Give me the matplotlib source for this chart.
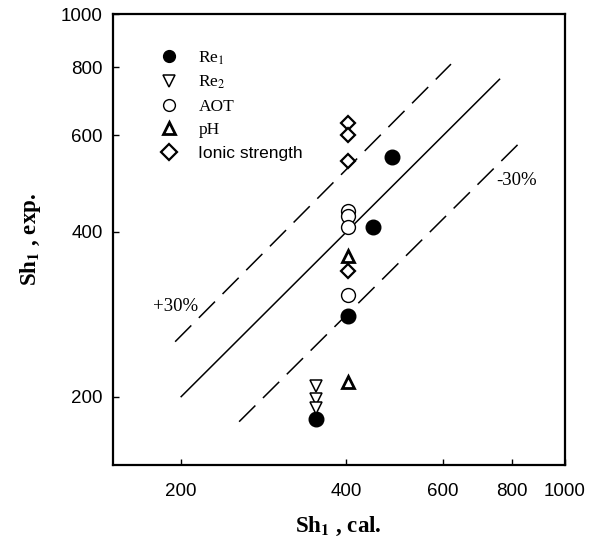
import matplotlib
matplotlib.use("Agg")
import matplotlib.pyplot as plt
from matplotlib.ticker import FixedLocator, FixedFormatter, NullLocator

plt.rcParams['mathtext.fontset'] = 'stix'

re1_cal = [485, 447, 402, 352]
re1_exp = [548, 409, 281, 182]
re2_cal = [352, 352, 352]
re2_exp = [209, 198, 191]
aot_cal = [402, 402, 402, 402]
aot_exp = [437, 428, 408, 307]
ph_cal = [402, 402]
ph_exp = [362, 213]
ionic_cal = [403, 403, 403, 403]
ionic_exp = [632, 602, 538, 339]

# parity line and +/-30% bands
parity_x = [200, 760]
parity_y = [200, 760]
plus30_x = [195, 620]
plus30_y = [252, 810]
minus30_x = [255, 840]
minus30_y = [180, 591]

ticks = [200, 400, 600, 800, 1000]
tick_labels = ["200", "400", "600", "800", "1000"]

fig = plt.figure(figsize=(6.02, 5.50), dpi=100)
ax = fig.add_axes([0.187, 0.1545, 0.7515, 0.82])

ax.plot(parity_x, parity_y, color='k', lw=1.1)
ax.plot(plus30_x, plus30_y, color='k', lw=1.1, dashes=(15, 7))
ax.plot(minus30_x, minus30_y, color='k', lw=1.1, dashes=(15, 7))

ax.plot(re1_cal, re1_exp, 'o', ms=10.5, mfc='k', mec='k', label="Re$_1$")
ax.plot(re2_cal, re2_exp, 'v', ms=8.5, mfc='white', mec='k', mew=1.1, label="Re$_2$")
ax.plot(aot_cal, aot_exp, 'o', ms=10, mfc='white', mec='k', mew=1.0, label="AOT")
ax.plot(ph_cal, ph_exp, '^', ms=8.5, mfc='white', mec='k', mew=2.0, label="pH")
ax.plot(ionic_cal, ionic_exp, 'D', ms=7.5, mfc='white', mec='k', mew=1.6, label="Ionic strength")

ax.set_xscale('log')
ax.set_yscale('log')
ax.set_xlim(150, 1000)
ax.set_ylim(150, 1000)

ax.xaxis.set_major_locator(FixedLocator(ticks))
ax.xaxis.set_major_formatter(FixedFormatter(tick_labels))
ax.yaxis.set_major_locator(FixedLocator(ticks))
ax.yaxis.set_major_formatter(FixedFormatter(tick_labels))
ax.xaxis.set_minor_locator(NullLocator())
ax.yaxis.set_minor_locator(NullLocator())
ax.tick_params(direction='in', length=4, width=1)
ax.tick_params(axis='x', pad=13)
ax.tick_params(axis='y', pad=7)
for lab in ax.get_xticklabels() + ax.get_yticklabels():
    lab.set_fontfamily('Liberation Sans')
    lab.set_fontsize(13.5)
for sp in ax.spines.values():
    sp.set_linewidth(1.6)

ax.set_xlabel(r"Sh$_\mathbf{1}$ , cal.", fontfamily='Liberation Serif',
              fontweight='bold', fontsize=16.5, labelpad=11)
ax.set_ylabel(r"Sh$_\mathbf{1}$ , exp.", fontfamily='Liberation Serif',
              fontweight='bold', fontsize=16.5, labelpad=13)

ax.text(178, 292, "+30%", fontfamily='Liberation Serif', fontsize=13.5,
        ha='left', va='center')
ax.text(750, 496, "-30%", fontfamily='Liberation Serif', fontsize=13.5,
        ha='left', va='center')

leg = ax.legend(loc='upper left', bbox_to_anchor=(0.09, 0.937), frameon=False,
                handlelength=1.0, handletextpad=1.2, labelspacing=0.42,
                borderaxespad=0, prop={'family': 'Liberation Serif', 'size': 12.5})
leg.get_texts()[4].set_fontfamily('Liberation Sans')
for h in leg.legend_handles:
    h.set_markersize(8.5)

fig.savefig("out.png", dpi=100)
